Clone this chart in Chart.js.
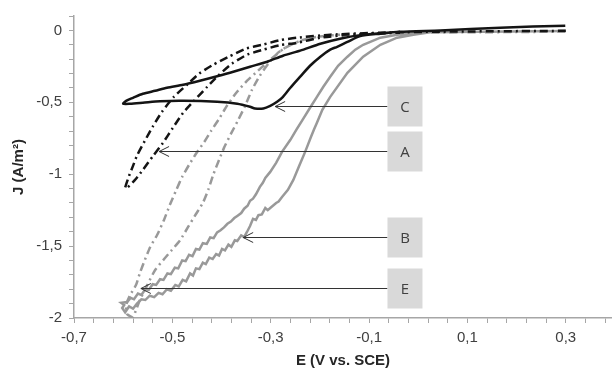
<!DOCTYPE html>
<html>
<head>
<meta charset="utf-8">
<script src="https://cdn.jsdelivr.net/npm/chart.js@4/dist/chart.umd.min.js"></script>
<style>
  html, body { margin: 0; padding: 0; background: #fff; }
  #cv { display: block; }
</style>
</head>
<body>
<canvas id="cv" width="612" height="372"></canvas>
<script>
// --- data: [E (V vs. SCE), J (A/m2)] ---
const curveC = [
  [0.299, 0.033], [0.167, 0.019], [0.045, 0.0], [-0.037, -0.01], [-0.077, -0.023], [-0.118, -0.04],
  [-0.144, -0.08], [-0.165, -0.114], [-0.179, -0.134], [-0.199, -0.183], [-0.22, -0.246], [-0.24, -0.322],
  [-0.26, -0.399], [-0.275, -0.462], [-0.287, -0.497], [-0.301, -0.525], [-0.315, -0.543], [-0.332, -0.543],
  [-0.342, -0.531], [-0.368, -0.51], [-0.409, -0.497], [-0.478, -0.49], [-0.525, -0.493], [-0.56, -0.503],
  [-0.586, -0.51], [-0.600, -0.51], [-0.594, -0.49], [-0.58, -0.469], [-0.56, -0.441], [-0.535, -0.42],
  [-0.511, -0.399], [-0.478, -0.378], [-0.444, -0.35], [-0.409, -0.319], [-0.376, -0.288], [-0.342, -0.253],
  [-0.307, -0.218], [-0.275, -0.176], [-0.24, -0.141], [-0.199, -0.093], [-0.159, -0.058], [-0.118, -0.033],
  [-0.077, -0.02], [-0.037, -0.01]
];

const curveA = [
  [0.30, -0.003], [0.045, -0.009], [-0.077, -0.016], [-0.179, -0.03], [-0.246, -0.051], [-0.281, -0.068],
  [-0.317, -0.10], [-0.35, -0.127], [-0.385, -0.183], [-0.417, -0.239], [-0.446, -0.302], [-0.47, -0.378],
  [-0.497, -0.462], [-0.521, -0.566], [-0.539, -0.664], [-0.556, -0.768], [-0.572, -0.872], [-0.58, -0.942],
  [-0.588, -1.012], [-0.596, -1.095], [-0.592, -1.095], [-0.576, -1.04], [-0.56, -0.97], [-0.539, -0.872],
  [-0.519, -0.782], [-0.499, -0.678], [-0.478, -0.573], [-0.456, -0.49], [-0.429, -0.392], [-0.407, -0.315],
  [-0.379, -0.232], [-0.348, -0.169], [-0.315, -0.134], [-0.281, -0.103], [-0.246, -0.086], [-0.199, -0.051],
  [-0.138, -0.03], [-0.037, -0.016]
];

const curveB = [
  [0.30, -0.005], [0.126, -0.009], [0.024, -0.013], [-0.01, -0.03], [-0.043, -0.051], [-0.077, -0.10],
  [-0.112, -0.183], [-0.144, -0.295], [-0.179, -0.462], [-0.195, -0.552], [-0.206, -0.643], [-0.212, -0.69],
  [-0.218, -0.74], [-0.23, -0.845], [-0.242, -0.942], [-0.254, -1.04], [-0.265, -1.109], [-0.277, -1.158],
  [-0.284, -1.19], [-0.289, -1.2], [-0.301, -1.235], [-0.306, -1.25], [-0.311, -1.235], [-0.318, -1.28],
  [-0.325, -1.285], [-0.33, -1.318], [-0.336, -1.31], [-0.342, -1.36], [-0.348, -1.40], [-0.354, -1.437],
  [-0.36, -1.425], [-0.368, -1.465], [-0.373, -1.46], [-0.38, -1.505], [-0.386, -1.49], [-0.393, -1.53],
  [-0.399, -1.52], [-0.405, -1.565], [-0.411, -1.555], [-0.418, -1.59], [-0.425, -1.58], [-0.432, -1.625],
  [-0.438, -1.615], [-0.445, -1.66], [-0.452, -1.655], [-0.458, -1.705], [-0.464, -1.69], [-0.472, -1.745],
  [-0.479, -1.735], [-0.487, -1.78], [-0.494, -1.77], [-0.503, -1.81], [-0.511, -1.80], [-0.52, -1.835],
  [-0.528, -1.825], [-0.537, -1.855], [-0.546, -1.845], [-0.555, -1.875], [-0.563, -1.87], [-0.572, -1.90],
  [-0.58, -1.935], [-0.588, -1.92], [-0.596, -1.96], [-0.602, -1.93], [-0.598, -1.91], [-0.604, -1.895],
  [-0.592, -1.889], [-0.585, -1.86], [-0.578, -1.87], [-0.57, -1.83], [-0.563, -1.84], [-0.555, -1.80],
  [-0.548, -1.805], [-0.54, -1.765], [-0.533, -1.77], [-0.525, -1.73], [-0.518, -1.735], [-0.51, -1.69],
  [-0.503, -1.695], [-0.495, -1.65], [-0.488, -1.655], [-0.48, -1.60], [-0.473, -1.605], [-0.466, -1.56],
  [-0.459, -1.57], [-0.452, -1.52], [-0.445, -1.525], [-0.438, -1.48], [-0.43, -1.485], [-0.423, -1.44],
  [-0.416, -1.445], [-0.409, -1.405], [-0.402, -1.39], [-0.395, -1.37], [-0.388, -1.345], [-0.381, -1.33],
  [-0.374, -1.305], [-0.368, -1.29], [-0.36, -1.27], [-0.354, -1.24], [-0.347, -1.22], [-0.342, -1.185],
  [-0.336, -1.17], [-0.33, -1.14], [-0.322, -1.088], [-0.316, -1.06], [-0.311, -1.026], [-0.301, -0.984],
  [-0.289, -0.921], [-0.277, -0.845], [-0.26, -0.761], [-0.248, -0.692], [-0.234, -0.615], [-0.22, -0.538],
  [-0.206, -0.462], [-0.193, -0.392], [-0.179, -0.322], [-0.163, -0.246], [-0.144, -0.183], [-0.128, -0.134],
  [-0.112, -0.10], [-0.077, -0.051], [-0.043, -0.03], [0.004, -0.016]
];

const curveE = [
  [0.299, -0.009], [0.126, -0.013], [-0.037, -0.016], [-0.118, -0.023], [-0.159, -0.03], [-0.195, -0.044],
  [-0.23, -0.065], [-0.26, -0.10], [-0.285, -0.155], [-0.305, -0.232], [-0.322, -0.315], [-0.338, -0.413],
  [-0.352, -0.525], [-0.366, -0.622], [-0.381, -0.72], [-0.395, -0.817], [-0.405, -0.90], [-0.417, -1.005],
  [-0.427, -1.109], [-0.438, -1.20], [-0.452, -1.277], [-0.468, -1.367], [-0.484, -1.458], [-0.501, -1.527],
  [-0.515, -1.583], [-0.535, -1.666], [-0.551, -1.771], [-0.566, -1.875], [-0.574, -1.945], [-0.58, -1.994],
  [-0.592, -1.973], [-0.594, -1.91], [-0.586, -1.841], [-0.574, -1.771], [-0.566, -1.687], [-0.556, -1.597],
  [-0.545, -1.506], [-0.531, -1.423], [-0.517, -1.318], [-0.505, -1.213], [-0.492, -1.109], [-0.48, -1.019],
  [-0.466, -0.935], [-0.452, -0.858], [-0.435, -0.775], [-0.421, -0.698], [-0.405, -0.615], [-0.389, -0.524],
  [-0.37, -0.434], [-0.348, -0.35], [-0.326, -0.281], [-0.301, -0.204], [-0.273, -0.127], [-0.24, -0.072],
  [-0.204, -0.044], [-0.159, -0.03]
];

// arrow labels: letter, arrow tip E, J of the arrow line
const noteLabels = ['C', 'A', 'B', 'E'];
const noteTipE = [-0.291, -0.527, -0.356, -0.564];
const noteJ = [-0.524, -0.838, -1.439, -1.792];
const noteBoxE = -0.028;

// axis ranges and tick steps
const xMin = -0.7, xMax = 0.394, xStep = 0.04;
const yMin = -2.0, yMax = 0.1, yStep = 0.1;

const axisColor = '#a6a6a6';
const textColor = '#404040';
const fontFamily = '"Liberation Sans", Arial, sans-serif';

function toPoints(arr) {
  return arr.map(p => ({ x: p[0], y: p[1] }));
}

function fmt(v) {
  return String(v).replace('.', ',');
}

// white background + arrows with boxed letters
const notesPlugin = {
  id: 'notes',
  beforeDraw(chart) {
    const ctx = chart.ctx;
    ctx.save();
    ctx.fillStyle = '#fff';
    ctx.fillRect(0, 0, chart.width, chart.height);
    ctx.restore();
  },
  afterDatasetsDraw(chart) {
    const ctx = chart.ctx;
    const xs = chart.scales.x, ys = chart.scales.y;
    const bx = xs.getPixelForValue(noteBoxE);
    ctx.save();
    noteLabels.forEach((lab, i) => {
      const y = Math.round(ys.getPixelForValue(noteJ[i])) + 0.5;
      const tx = xs.getPixelForValue(noteTipE[i]);
      ctx.strokeStyle = '#333';
      ctx.lineWidth = 1;
      ctx.beginPath();
      ctx.moveTo(bx - 17, y);
      ctx.lineTo(tx, y);
      ctx.moveTo(tx + 10, y - 5);
      ctx.lineTo(tx, y);
      ctx.lineTo(tx + 10, y + 5);
      ctx.stroke();
      ctx.fillStyle = '#d9d9d9';
      ctx.fillRect(bx - 17, y - 20, 35, 40);
      ctx.fillStyle = textColor;
      ctx.font = '15px "Open Sans"';
      ctx.textAlign = 'center';
      ctx.textBaseline = 'middle';
      ctx.fillText(lab, bx + 0.5, y + 1);
    });
    ctx.restore();
  }
};

document.addEventListener('DOMContentLoaded', function() {
  const lineBase = { showLine: true, pointRadius: 0, borderWidth: 2.5, fill: false };

  new Chart(document.getElementById('cv').getContext('2d'), {
    type: 'scatter',
    data: {
      datasets: [
        Object.assign({}, lineBase, { label: 'C', data: toPoints(curveC), borderColor: '#141414', tension: 0.25 }),
        Object.assign({}, lineBase, { label: 'A', data: toPoints(curveA), borderColor: '#141414', borderDash: [8, 4, 2, 4], tension: 0.2 }),
        Object.assign({}, lineBase, { label: 'B', data: toPoints(curveB), borderColor: '#999999', tension: 0 }),
        Object.assign({}, lineBase, { label: 'E', data: toPoints(curveE), borderColor: '#999999', borderDash: [8, 4, 2, 4], tension: 0.2 })
      ]
    },
    options: {
      responsive: false,
      animation: false,
      devicePixelRatio: 1,
      layout: { padding: { top: 16, left: 0, right: 0, bottom: 0 } },
      plugins: { legend: { display: false }, tooltip: { enabled: false } },
      scales: {
        x: {
          type: 'linear', min: xMin, max: xMax,
          afterBuildTicks(scale) {
            const t = [];
            for (let i = 0; xMin + i * xStep <= xMax + 1e-9; i++) {
              t.push({ value: Math.round((xMin + i * xStep) * 100) / 100 });
            }
            scale.ticks = t;
          },
          afterFit(scale) { scale.height = 54; },
          ticks: {
            autoSkip: false, maxRotation: 0, padding: 6, color: textColor,
            font: { family: fontFamily, size: 15 },
            callback: (v, i) => (i % 5 === 0 ? fmt(Number(v).toFixed(1)) : '')
          },
          grid: { drawOnChartArea: false, drawTicks: true, tickLength: 5, color: axisColor, lineWidth: 1 },
          border: { display: true, color: axisColor, width: 1.5 },
          title: {
            display: true, text: 'E (V vs. SCE)', color: '#262626',
            font: { family: fontFamily, size: 15, weight: 'bold' },
            padding: { top: 0, bottom: 2 }
          }
        },
        y: {
          type: 'linear', min: yMin, max: yMax,
          afterBuildTicks(scale) {
            const t = [];
            for (let i = 0; yMin + i * yStep <= yMax + 1e-9; i++) {
              t.push({ value: Math.round((yMin + i * yStep) * 10) / 10 });
            }
            scale.ticks = t;
          },
          afterFit(scale) { scale.width = 74; },
          ticks: {
            autoSkip: false, padding: 7, color: textColor,
            font: { family: fontFamily, size: 15 },
            callback: v => (Math.round(v * 10) % 5 === 0 && v <= 0 ? fmt(Math.round(v * 10) / 10) : '')
          },
          grid: { drawOnChartArea: false, drawTicks: true, tickLength: 5, color: axisColor, lineWidth: 1 },
          border: { display: true, color: axisColor, width: 1.5 },
          title: {
            display: true, text: 'J (A/m²)', color: '#262626',
            font: { family: fontFamily, size: 15, weight: 'bold' },
            padding: { top: 10, bottom: 0 }
          }
        }
      }
    },
    plugins: [notesPlugin]
  });
});
</script>
</body>
</html>
